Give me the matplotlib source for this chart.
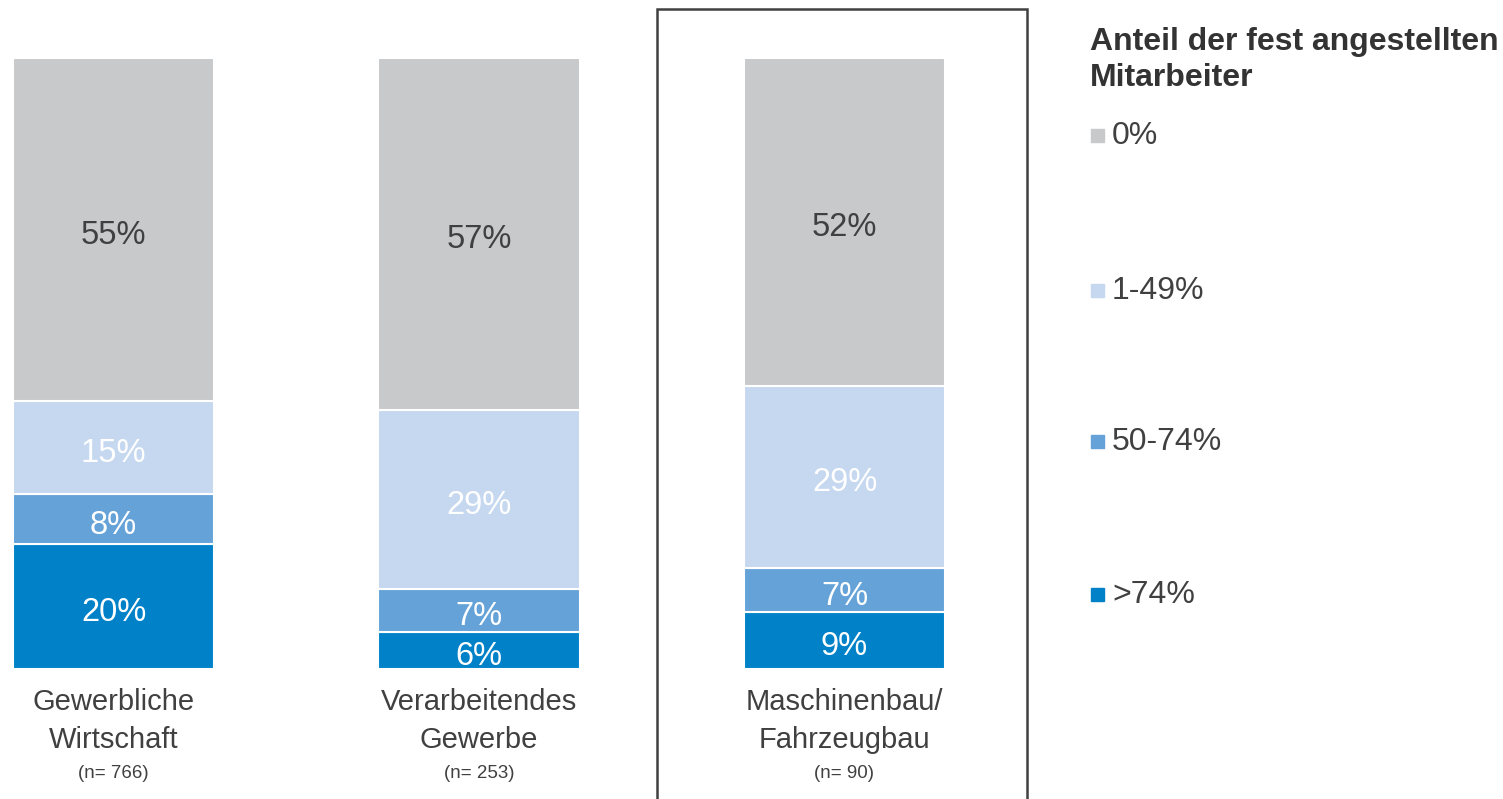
import matplotlib
matplotlib.use("Agg")
import matplotlib.pyplot as plt
from matplotlib.patches import Rectangle
import numpy as np

plt.rcParams['font.family'] = ['Liberation Sans', 'DejaVu Sans']

categories = ["Gewerbliche\nWirtschaft", "Verarbeitendes\nGewerbe", "Maschinenbau/\nFahrzeugbau"]
n_labels = ["(n= 766)", "(n= 253)", "(n= 90)"]
series_names = [">74%", "50-74%", "1-49%", "0%"]
v_gt74 = [20, 6, 9]
v_50_74 = [8, 7, 7]
v_1_49 = [15, 29, 29]
v_0 = [55, 57, 52]
colors = ["#0081C8", "#64A2D8", "#C5D8F0", "#C8C9CB"]
text_colors = ["white", "white", "white", "#404040"]
legend_title = "Anteil der fest angestellten\nMitarbeiter"

W, H = 1503, 799
fig = plt.figure(figsize=(W / 100, H / 100), dpi=100)
ax = fig.add_axes([0, 1 - 669 / H, 1050 / W, 611 / H])

series = np.array([v_gt74, v_50_74, v_1_49, v_0], dtype=float)
totals = series.sum(axis=0)
norm = series / totals * 100
x = np.arange(len(categories))
bottom = np.zeros(len(categories))
for i in range(len(series_names)):
    ax.bar(x, norm[i], bottom=bottom, width=0.55, color=colors[i],
           edgecolor="white", linewidth=1.5)
    for j in range(len(categories)):
        ax.text(x[j], bottom[j] + norm[i][j] / 2 - 0.4, f"{int(series[i][j])}%",
                ha="center", va="center_baseline", fontsize=23.5, color=text_colors[i])
    bottom += norm[i]

ax.set_xlim(-113.5 / 365.5, 2 + (1050 - 844.5) / 365.5)
ax.set_ylim(0, 100)
ax.axis("off")

# category labels
for j in range(len(categories)):
    fig.text((113.5 + 365.5 * j) / W, 1 - 721 / H, categories[j], ha="center",
             va="center", fontsize=21, color="#404040", linespacing=1.42)
    fig.text((113.5 + 365.5 * j) / W, 1 - 774 / H, n_labels[j], ha="center",
             va="center", fontsize=13.5, color="#404040")

# highlight box around third category
fig.patches.append(Rectangle((657 / W, -0.01), (1027 - 657) / W, 1 - 9 / H + 0.01,
                             transform=fig.transFigure, fill=False,
                             edgecolor="#404040", linewidth=1.8, clip_on=False))

# legend
fig.text(1090 / W, 1 - 60 / H, legend_title, ha="left", va="center",
         fontsize=23, fontweight="bold", color="#333333", linespacing=1.28)
leg_y = [136, 291, 442, 595]
order = [3, 2, 1, 0]
for k, i in enumerate(order):
    yc = leg_y[k]
    fig.patches.append(Rectangle((1091 / W, 1 - (yc + 6) / H), 13 / W, 13 / H,
                                 transform=fig.transFigure, color=colors[i]))
    fig.text(1112 / W, 1 - yc / H, series_names[i], ha="left", va="center",
             fontsize=23, color="#404040")

fig.savefig("out.png", dpi=100)
